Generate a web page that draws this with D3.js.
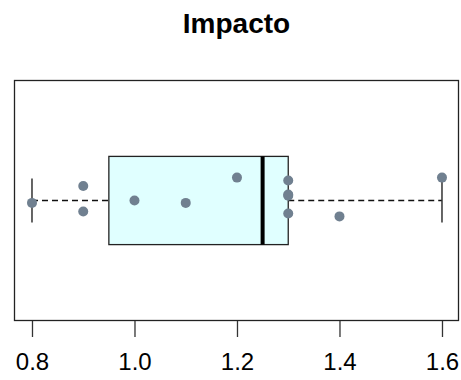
<!DOCTYPE html>
<html>
  <head>
    <meta charset="utf-8">
    <script src="https://d3js.org/d3.v7.min.js"></script>
    <style>
    body {
      margin: 0;
      background: #fff;
    }
    text {
      font-family: "Liberation Sans", Arial, sans-serif;
    }
  </style>
  </head>
  <body>
    <div id="chart"></div>
    <script>
    // observed values and the vertical jitter of each point (in box-axis units)
    var values = [0.8, 0.9, 0.9, 1.0, 1.1, 1.2, 1.3, 1.3, 1.3, 1.3, 1.4, 1.6];
    var jitter = [-0.01, 0.06, -0.046, 0.0, -0.01, 0.095, 0.083, 0.02, 0.025, -0.054, -0.066, 0.095];
    var ticks = [0.8, 1.0, 1.2, 1.4, 1.6];
    var title = "Impacto";

    var width = 461, height = 380;
    var plot = {left: 14, right: 459, top: 80, bottom: 321};

    var svg = d3.select("#chart").append("svg")
      .attr("width", width)
      .attr("height", height);

    var x = d3.scaleLinear()
      .domain([0.7649, 1.6332])
      .range([plot.left, plot.right]);

    var y = d3.scaleLinear()
      .domain([0.5, 1.5])
      .range([plot.bottom, plot.top]);

    // tukey five number summary, like R fivenum()
    function fivenum(arr) {
      var s = arr.slice().sort(d3.ascending);
      var n = s.length;
      var n4 = Math.floor((n + 3) / 2) / 2;
      var idx = [1, n4, (n + 1) / 2, n + 1 - n4, n];
      return idx.map(function (d) {
        return 0.5 * (s[Math.floor(d) - 1] + s[Math.ceil(d) - 1]);
      });
    }

    var f = fivenum(values);
    var q1 = f[1], med = f[2], q3 = f[3];
    var iqr = q3 - q1;
    var loW = d3.min(values.filter(function (v) { return v >= q1 - 1.5 * iqr; }));
    var hiW = d3.max(values.filter(function (v) { return v <= q3 + 1.5 * iqr; }));

    var half = 0.183;
    var g = svg.append("g");

    // whiskers
    g.append("line")
      .attr("x1", x(loW)).attr("x2", x(q1))
      .attr("y1", y(1)).attr("y2", y(1))
      .attr("stroke", "#111").attr("stroke-width", 1.3).attr("stroke-dasharray", "6,4");
    g.append("line")
      .attr("x1", x(q3)).attr("x2", x(hiW))
      .attr("y1", y(1)).attr("y2", y(1))
      .attr("stroke", "#111").attr("stroke-width", 1.3).attr("stroke-dasharray", "6,4");
    [loW, hiW].forEach(function (v) {
      g.append("line")
        .attr("x1", x(v)).attr("x2", x(v))
        .attr("y1", y(1 - half / 2)).attr("y2", y(1 + half / 2))
        .attr("stroke", "#333").attr("stroke-width", 1.5);
    });

    // box
    g.append("rect")
      .attr("x", x(q1))
      .attr("y", y(1 + half))
      .attr("width", x(q3) - x(q1))
      .attr("height", y(1 - half) - y(1 + half))
      .attr("fill", "#e0ffff")
      .attr("stroke", "#222")
      .attr("stroke-width", 1.3);
    g.append("line")
      .attr("x1", x(med)).attr("x2", x(med))
      .attr("y1", y(1 + half)).attr("y2", y(1 - half))
      .attr("stroke", "#000").attr("stroke-width", 4);

    // points
    g.selectAll("circle.pt")
      .data(values)
      .enter().append("circle")
      .attr("class", "pt")
      .attr("cx", function (d) { return x(d); })
      .attr("cy", function (d, i) { return y(1 + jitter[i]); })
      .attr("r", 5)
      .attr("fill", "#708090");

    // frame
    svg.append("rect")
      .attr("x", plot.left + 0.5)
      .attr("y", plot.top + 0.5)
      .attr("width", plot.right - plot.left - 1)
      .attr("height", plot.bottom - plot.top - 1)
      .attr("fill", "none")
      .attr("stroke", "#222")
      .attr("stroke-width", 1.3);

    // x axis
    var axis = d3.axisBottom(x)
      .tickValues(ticks)
      .tickSize(16)
      .tickPadding(16)
      .tickFormat(d3.format(".1f"));
    var ax = svg.append("g")
      .attr("transform", "translate(0," + plot.bottom + ")")
      .call(axis);
    ax.select(".domain").remove();
    ax.selectAll(".tick line").attr("stroke", "#333").attr("stroke-width", 1.3);
    ax.selectAll(".tick text")
      .attr("font-size", 24)
      .attr("fill", "#000")
      .style("font-family", "'Liberation Sans', Arial, sans-serif");

    svg.append("text")
      .attr("x", (plot.left + plot.right) / 2)
      .attr("y", 33)
      .attr("text-anchor", "middle")
      .attr("font-size", 28)
      .attr("font-weight", "bold")
      .text(title);
  </script>
  </body>
</html>
